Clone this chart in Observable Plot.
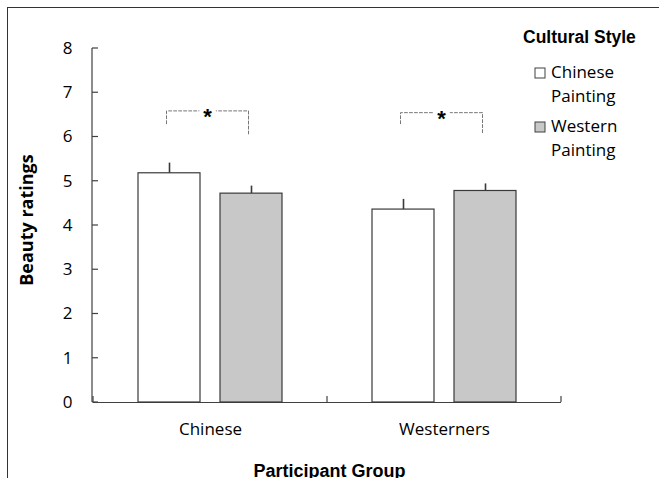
<!DOCTYPE html>
<html><head><meta charset="utf-8">
<script src="https://cdn.jsdelivr.net/npm/d3@7"></script>
<script src="https://cdn.jsdelivr.net/npm/@observablehq/plot@0.6"></script>
<style>
body{margin:0;background:#fff;}
#wrap{position:relative;width:659px;height:478px;overflow:hidden;}
#frame{position:absolute;left:7px;top:7px;width:700px;height:500px;border-top:1px solid #333;border-left:1px solid #333;pointer-events:none;}
</style></head><body>
<div id="wrap"><div id="chart"></div><div id="frame"></div></div>
<script>
const groups = ["Chinese", "Westerners"];
const styles = ["Chinese Painting", "Western Painting"];
const meanChinesePainting = [5.18, 4.36];
const meanWesternPainting = [4.72, 4.78];
const errChinesePainting = [0.23, 0.23];
const errWesternPainting = [0.17, 0.16];
const yTicks = [0, 1, 2, 3, 4, 5, 6, 7, 8];
const sigTop = [6.59, 6.55];
const sigLegChinesePainting = [6.30, 6.30];
const sigLegWesternPainting = [6.07, 6.09];
const sigLabel = ["*", "*"];
const legendTitle = "Cultural Style";
const xTitle = "Participant Group";
const yTitle = "Beauty ratings";
const fills = ["#ffffff", "#c8c8c8"];

const bars = groups.flatMap((g, i) => [
  {group: g, style: styles[0], mean: meanChinesePainting[i], err: meanChinesePainting[i] + errChinesePainting[i]},
  {group: g, style: styles[1], mean: meanWesternPainting[i], err: meanWesternPainting[i] + errWesternPainting[i]}
]);
const brackets = groups.flatMap((g, i) => [
  {group: g, style: styles[0], y: sigLegChinesePainting[i]},
  {group: g, style: styles[0], y: sigTop[i]},
  {group: g, style: styles[1], y: sigTop[i]},
  {group: g, style: styles[1], y: sigLegWesternPainting[i]}
]);
const stars = groups.map((g, i) => ({group: g, y: sigTop[i], label: sigLabel[i]}));

const chart = Plot.plot({
  width: 659, height: 478,
  marginLeft: 92, marginRight: 98, marginTop: 48, marginBottom: 76,
  style: {fontFamily: '"Open Sans", sans-serif', fontSize: "17px", color: "#000", background: "transparent"},
  fx: {domain: groups, padding: 0, tickSize: 0, tickPadding: 20, label: null},
  x: {domain: styles, paddingInner: 0.247, paddingOuter: 0.55, axis: null},
  y: {domain: [0, 8], ticks: yTicks, tickSize: 0, tickPadding: 21, label: null},
  color: {domain: styles, range: fills},
  marks: [
    Plot.ruleY([0], {stroke: "#404040", strokeWidth: 1.2}),
    Plot.barY(bars, {fx: "group", x: "style", y: "mean", fill: "style", stroke: "#3a3a3a", strokeWidth: 1.2}),
    Plot.ruleX(bars, {fx: "group", x: "style", y1: "mean", y2: "err", stroke: "#3a3a3a", strokeWidth: 1.6}),
    Plot.line(brackets, {fx: "group", x: "style", y: "y", z: "group", stroke: "#777", strokeWidth: 1, strokeDasharray: "3,2", dx: -3}),
    Plot.text(stars, {fx: "group", y: "y", text: "label", fontFamily: '"Liberation Sans", Arial, sans-serif', fontWeight: "bold", fontSize: 22, stroke: "white", strokeWidth: 9, paintOrder: "stroke", fill: "#000", dy: 6, dx: -3})
  ]
});
document.getElementById("chart").appendChild(chart);

const svg = d3.select(chart);
const ys = chart.scale("y"), fxs = chart.scale("fx");
const xL = fxs.range[0], xR = fxs.range[1];
const yB = ys.apply(0), yT = ys.apply(8);
const g = svg.append("g").attr("stroke", "#404040").attr("stroke-width", 1.2).attr("fill", "none");
g.append("line").attr("x1", xL).attr("x2", xL).attr("y1", yB).attr("y2", yT);
yTicks.forEach(t => g.append("line").attr("x1", xL).attr("x2", xL + 6).attr("y1", ys.apply(t)).attr("y2", ys.apply(t)));
const edges = groups.map(d => fxs.apply(d)).concat([fxs.apply(groups[groups.length - 1]) + fxs.bandwidth]);
edges.forEach(e => g.append("line").attr("x1", e).attr("x2", e).attr("y1", yB).attr("y2", yB - 6));

svg.append("text").attr("transform", `translate(33,${(yB + yT) / 2 - 5}) rotate(-90)`)
  .attr("text-anchor", "middle").attr("font-family", '"Open Sans", sans-serif').attr("font-weight", "bold").attr("font-size", 18).attr("fill", "#000").text(yTitle);
svg.append("text").attr("x", (xL + xR) / 2 + 3).attr("y", 477)
  .attr("text-anchor", "middle").attr("font-family", '"Liberation Sans", Arial, sans-serif').attr("font-weight", "bold").attr("font-size", 18).attr("fill", "#000").text(xTitle);

const lg = svg.append("g").attr("text-anchor", "start");
lg.append("text").attr("x", 523).attr("y", 43).attr("text-anchor", "start").attr("font-family", '"Liberation Sans", Arial, sans-serif').attr("font-weight", "bold").attr("font-size", 17.5).attr("fill", "#000").text(legendTitle);
styles.forEach((s, i) => {
  const top = 68 + i * 54;
  lg.append("rect").attr("x", 535).attr("y", top).attr("width", 10).attr("height", 10).attr("fill", fills[i]).attr("stroke", "#404040").attr("stroke-width", 1);
  s.split(" ").forEach((w, j) => {
    lg.append("text").attr("x", 551).attr("y", top + 10 + j * 24).attr("text-anchor", "start").attr("font-family", '"Open Sans", sans-serif').attr("font-size", 17).attr("fill", "#000").text(w);
  });
});
</script>
</body></html>
